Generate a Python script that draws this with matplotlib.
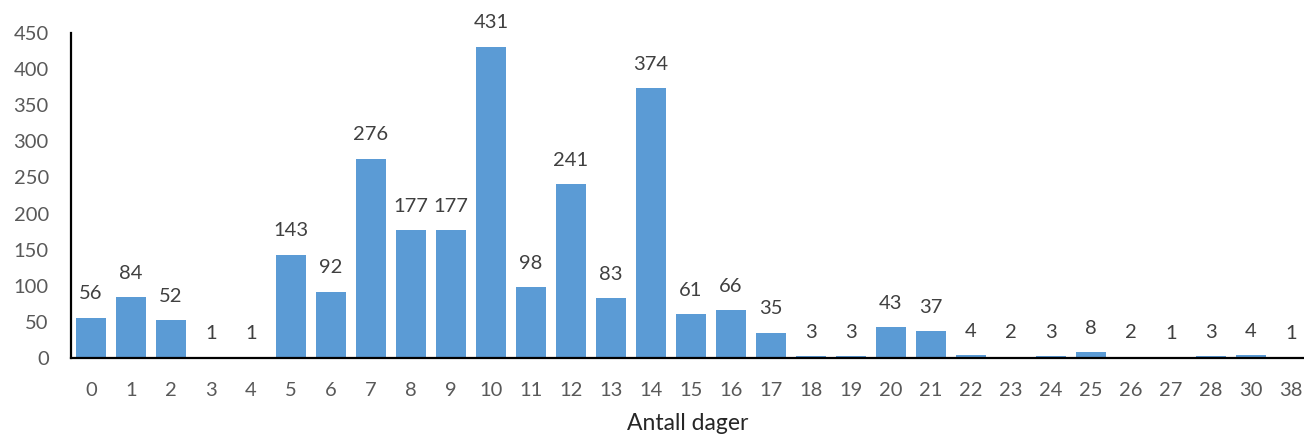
import matplotlib
matplotlib.use("Agg")
import matplotlib.pyplot as plt

categories = ["0","1","2","3","4","5","6","7","8","9","10","11","12","13","14","15",
              "16","17","18","19","20","21","22","23","24","25","26","27","28","30","38"]
values = [56,84,52,1,1,143,92,276,177,177,431,98,241,83,374,61,66,35,3,3,43,37,4,2,3,8,2,1,3,4,1]
yticks = [0,50,100,150,200,250,300,350,400,450]

plt.rcParams['font.family'] = ['Lato', 'DejaVu Sans']

fig = plt.figure(figsize=(13.04, 4.36), dpi=100)
ax = fig.add_axes([71/1304, 1-358/436, 1-71/1304, (358-33)/436])
x = list(range(len(categories)))
ax.bar(x, values, width=0.75, color='#5B9BD5', zorder=2)
for xi, v in zip(x, values):
    ax.annotate(str(v), (xi, v), xytext=(0, 11), textcoords='offset points',
                ha='center', va='bottom', fontsize=14.5, color='#404040')
ax.set_xlim(-0.5, 30.33)
ax.set_ylim(0, 450)
ax.set_yticks(yticks)
ax.set_xticks(x)
ax.set_xticklabels(categories)
ax.tick_params(axis='both', length=0, labelsize=14.5, labelcolor='#595959')
ax.tick_params(axis='y', pad=16)
ax.tick_params(axis='x', pad=17)
for s in ['top', 'right']:
    ax.spines[s].set_visible(False)
for s in ['left', 'bottom']:
    ax.spines[s].set_linewidth(1.6)
    ax.spines[s].set_color('black')
    ax.spines[s].set_zorder(3)
ax.set_xlabel('Antall dager', fontsize=16.5, color='#262626', labelpad=10)
ax.patch.set_alpha(0)
fig.savefig('out.png', dpi=100)
